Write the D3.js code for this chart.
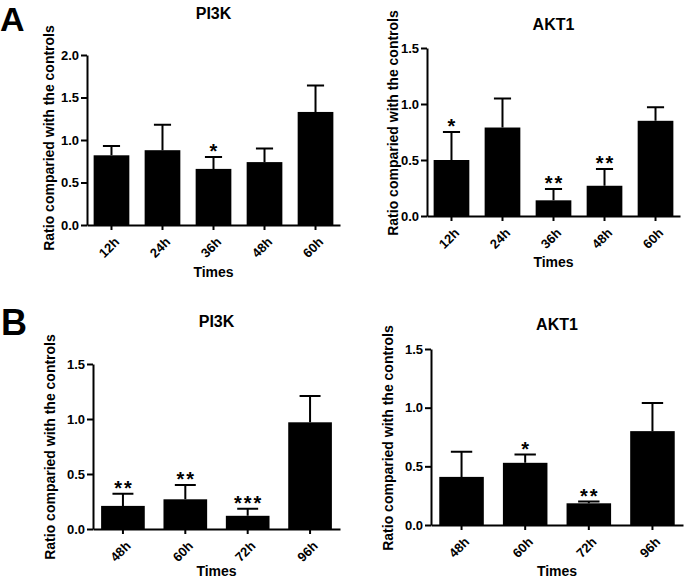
<!DOCTYPE html>
<html>
<head>
<meta charset="utf-8">
<script src="https://cdn.jsdelivr.net/npm/d3@7"></script>
<style>
  body { margin: 0; background: #fff; }
  svg { font-family: "Liberation Sans", Arial, sans-serif; font-weight: bold; }
</style>
</head>
<body>
<div id="chart"></div>
<script>
// Data
var timesA = ["12h", "24h", "36h", "48h", "60h"];
var pi3kA = [0.82, 0.88, 0.66, 0.74, 1.33];
var pi3kAErr = [0.11, 0.30, 0.14, 0.16, 0.31];
var pi3kASig = ["", "", "*", "", ""];

var akt1A = [0.50, 0.79, 0.14, 0.27, 0.85];
var akt1AErr = [0.25, 0.26, 0.10, 0.15, 0.12];
var akt1ASig = ["*", "", "**", "**", ""];

var timesB = ["48h", "60h", "72h", "96h"];
var pi3kB = [0.21, 0.27, 0.12, 0.97];
var pi3kBErr = [0.11, 0.13, 0.065, 0.24];
var pi3kBSig = ["**", "**", "***", ""];

var akt1B = [0.41, 0.53, 0.185, 0.80];
var akt1BErr = [0.215, 0.07, 0.015, 0.24];
var akt1BSig = ["", "*", "**", ""];

var ticksA1 = [0, 0.5, 1.0, 1.5, 2.0];
var ticks15 = [0, 0.5, 1.0, 1.5];

var svg = d3.select("#chart")
  .append("svg")
  .attr("width", 685)
  .attr("height", 579);

// panel letters
svg.append("text").attr("x", 0).attr("y", 31).attr("font-size", 34).text("A");
svg.append("text").attr("x", 1).attr("y", 335).attr("font-size", 36).text("B");

function drawPanel(p) {
  var x = d3.scaleBand()
    .domain(p.cats)
    .range([p.left, p.right])
    .paddingInner(0.3)
    .paddingOuter(0.13);

  var y = d3.scaleLinear()
    .domain([0, p.max])
    .range([p.bottom, p.top]);

  var g = svg.append("g");

  var rows = p.cats.map(function(c, i) {
    return { cat: c, val: p.vals[i], err: p.errs[i], sig: p.sig[i] };
  });

  // bars
  g.selectAll(".bar")
    .data(rows)
    .enter()
    .append("rect")
    .attr("x", d => x(d.cat))
    .attr("y", d => y(d.val))
    .attr("width", x.bandwidth())
    .attr("height", d => p.bottom - y(d.val))
    .attr("fill", "#000");

  // error bars (upper only)
  var cap = x.bandwidth() * 0.48;
  g.selectAll(".whisker")
    .data(rows)
    .enter()
    .append("path")
    .attr("d", function(d) {
      var cx = x(d.cat) + x.bandwidth() / 2;
      var top = y(d.val + d.err);
      return "M" + cx + "," + y(d.val) + "V" + top +
        "M" + (cx - cap / 2) + "," + top + "H" + (cx + cap / 2);
    })
    .attr("stroke", "#000")
    .attr("stroke-width", 2)
    .attr("fill", "none");

  // significance stars
  g.selectAll(".sig")
    .data(rows)
    .enter()
    .append("text")
    .attr("x", d => x(d.cat) + x.bandwidth() / 2)
    .attr("y", d => y(d.val + d.err) + 1)
    .attr("dx", 1)
    .attr("text-anchor", "middle")
    .attr("font-size", 20)
    .attr("letter-spacing", 2)
    .text(d => d.sig);

  // y axis
  var yAxis = d3.axisLeft(y)
    .tickValues(p.ticks)
    .tickFormat(d3.format(".1f"))
    .tickSize(6)
    .tickSizeOuter(0)
    .tickPadding(2);
  var ya = g.append("g")
    .attr("transform", `translate(${p.left}, 0)`)
    .call(yAxis);
  ya.select(".domain").attr("stroke-width", 2);
  ya.selectAll(".tick line").attr("stroke-width", 2);
  ya.selectAll("text")
    .attr("font-size", 13)
    .attr("font-family", "Liberation Sans, Arial, sans-serif")
    .attr("font-weight", "bold")
    .attr("fill", "#000");

  // x axis
  var xAxis = d3.axisBottom(x)
    .tickSize(5)
    .tickSizeOuter(0);
  var xa = g.append("g")
    .attr("transform", `translate(0, ${p.bottom})`)
    .call(xAxis);
  xa.select(".domain").attr("stroke-width", 2);
  xa.selectAll(".tick line").attr("stroke-width", 2);
  xa.selectAll("text")
    .attr("font-size", 13)
    .attr("font-family", "Liberation Sans, Arial, sans-serif")
    .attr("font-weight", "bold")
    .attr("fill", "#000")
    .attr("text-anchor", "end")
    .attr("dy", 0)
    .attr("transform", "translate(3, 12) rotate(-45)");

  var mid = (p.left + p.right) / 2;

  // title
  g.append("text")
    .attr("x", mid)
    .attr("y", p.titleY)
    .attr("text-anchor", "middle")
    .attr("font-size", 16)
    .text(p.title);

  // x label
  g.append("text")
    .attr("x", mid)
    .attr("y", p.timesY)
    .attr("text-anchor", "middle")
    .attr("font-size", 14)
    .text("Times");

  // y label
  g.append("text")
    .attr("transform", `translate(${p.ylabX}, ${p.ylabY}) rotate(-90)`)
    .attr("text-anchor", "middle")
    .attr("font-size", 14)
    .text("Ratio comparied with the controls");
}

drawPanel({ cats: timesA, vals: pi3kA, errs: pi3kAErr, sig: pi3kASig, ticks: ticksA1, max: 2.0,
  left: 87, right: 340, top: 55, bottom: 225, title: "PI3K", titleY: 19, timesY: 277, ylabX: 54, ylabY: 138 });

drawPanel({ cats: timesA, vals: akt1A, errs: akt1AErr, sig: akt1ASig, ticks: ticks15, max: 1.5,
  left: 427, right: 680, top: 48, bottom: 216, title: "AKT1", titleY: 30, timesY: 267, ylabX: 398, ylabY: 123 });

drawPanel({ cats: timesB, vals: pi3kB, errs: pi3kBErr, sig: pi3kBSig, ticks: ticks15, max: 1.5,
  left: 93, right: 340, top: 364, bottom: 529, title: "PI3K", titleY: 327, timesY: 576, ylabX: 55, ylabY: 447 });

drawPanel({ cats: timesB, vals: akt1B, errs: akt1BErr, sig: akt1BSig, ticks: ticks15, max: 1.5,
  left: 431, right: 683, top: 349, bottom: 525, title: "AKT1", titleY: 330, timesY: 576, ylabX: 393, ylabY: 438 });
</script>
</body>
</html>
